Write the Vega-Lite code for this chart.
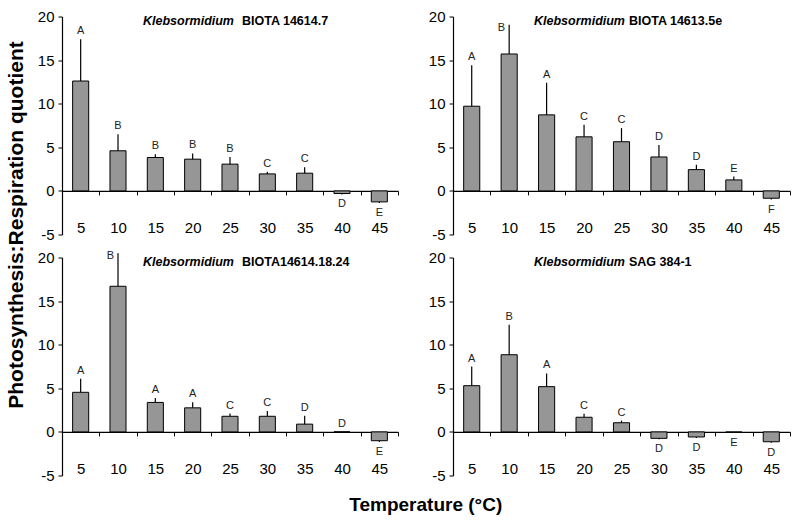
{
  "$schema": "https://vega.github.io/schema/vega-lite/v6.json",
  "padding": {"left": 5, "top": 9.5, "right": 5, "bottom": 5},
  "background": "white",
  "config": {
    "font": "Liberation Sans",
    "view": {"stroke": null},
    "axis": {"grid": false, "labelFont": "Liberation Sans", "titleFont": "Liberation Sans", "domainColor": "#000000", "tickColor": "#000000", "labelColor": "#000000", "titleColor": "#000000"},
    "axisX": {"tickSize": 4, "labelPadding": 26, "labelFontSize": 15, "labelAngle": 0, "tickBand": "extent", "offset": -43.6, "domainWidth": 1.2, "tickWidth": 1},
    "axisY": {"tickSize": 4, "labelPadding": 4, "labelFontSize": 15, "domainWidth": 1.2, "tickWidth": 1},
    "text": {"font": "Liberation Sans"}
  },
  "title": {"text": "Temperature (°C)", "orient": "bottom", "anchor": "middle", "fontSize": 19, "fontWeight": "bold", "font": "Liberation Sans", "color": "#000000", "offset": 12, "dx": 28},
  "datasets": {
    "bars": [
      {"panel": "A", "temp": 5, "value": 12.6, "err_end": 17.4, "letter": "A"},
      {"panel": "A", "temp": 10, "value": 4.6, "err_end": 6.5, "letter": "B"},
      {"panel": "A", "temp": 15, "value": 3.83, "err_end": 4.2, "letter": "B"},
      {"panel": "A", "temp": 20, "value": 3.64, "err_end": 4.3, "letter": "B"},
      {"panel": "A", "temp": 25, "value": 3.07, "err_end": 3.9, "letter": "B"},
      {"panel": "A", "temp": 30, "value": 1.95, "err_end": 2.2, "letter": "C"},
      {"panel": "A", "temp": 35, "value": 2.03, "err_end": 2.7, "letter": "C"},
      {"panel": "A", "temp": 40, "value": -0.3, "err_end": -0.4, "letter": "D"},
      {"panel": "A", "temp": 45, "value": -1.26, "err_end": -1.4, "letter": "E"},
      {"panel": "B", "temp": 5, "value": 9.71, "err_end": 14.4, "letter": "A"},
      {"panel": "B", "temp": 10, "value": 15.7, "err_end": 19.05, "letter": "B"},
      {"panel": "B", "temp": 15, "value": 8.72, "err_end": 12.4, "letter": "A"},
      {"panel": "B", "temp": 20, "value": 6.2, "err_end": 7.6, "letter": "C"},
      {"panel": "B", "temp": 25, "value": 5.64, "err_end": 7.2, "letter": "C"},
      {"panel": "B", "temp": 30, "value": 3.89, "err_end": 5.26, "letter": "D"},
      {"panel": "B", "temp": 35, "value": 2.44, "err_end": 3.0, "letter": "D"},
      {"panel": "B", "temp": 40, "value": 1.26, "err_end": 1.64, "letter": "E"},
      {"panel": "B", "temp": 45, "value": -0.84, "err_end": -1.0, "letter": "F"},
      {"panel": "C", "temp": 5, "value": 4.54, "err_end": 6.1, "letter": "A"},
      {"panel": "C", "temp": 10, "value": 16.7, "err_end": 20.5, "letter": "B"},
      {"panel": "C", "temp": 15, "value": 3.38, "err_end": 3.9, "letter": "A"},
      {"panel": "C", "temp": 20, "value": 2.76, "err_end": 3.4, "letter": "A"},
      {"panel": "C", "temp": 25, "value": 1.79, "err_end": 2.1, "letter": "C"},
      {"panel": "C", "temp": 30, "value": 1.79, "err_end": 2.4, "letter": "C"},
      {"panel": "C", "temp": 35, "value": 0.89, "err_end": 1.86, "letter": "D"},
      {"panel": "C", "temp": 40, "value": 0, "err_end": 0, "letter": "D"},
      {"panel": "C", "temp": 45, "value": -1.01, "err_end": -1.15, "letter": "E"},
      {"panel": "D", "temp": 5, "value": 5.3, "err_end": 7.5, "letter": "A"},
      {"panel": "D", "temp": 10, "value": 8.85, "err_end": 12.3, "letter": "B"},
      {"panel": "D", "temp": 15, "value": 5.19, "err_end": 6.7, "letter": "A"},
      {"panel": "D", "temp": 20, "value": 1.68, "err_end": 2.07, "letter": "C"},
      {"panel": "D", "temp": 25, "value": 1.05, "err_end": 1.3, "letter": "C"},
      {"panel": "D", "temp": 30, "value": -0.74, "err_end": -0.85, "letter": "D"},
      {"panel": "D", "temp": 35, "value": -0.58, "err_end": -0.7, "letter": "D"},
      {"panel": "D", "temp": 40, "value": -0.05, "err_end": -0.1, "letter": "E"},
      {"panel": "D", "temp": 45, "value": -1.13, "err_end": -1.25, "letter": "D"}
    ],
    "titles": [
      {"panel": "A", "genus": "Klebsormidium", "strain": "BIOTA 14614.7"},
      {"panel": "B", "genus": "Klebsormidium", "strain": "BIOTA 14613.5e"},
      {"panel": "C", "genus": "Klebsormidium", "strain": "BIOTA14614.18.24"},
      {"panel": "D", "genus": "Klebsormidium", "strain": "SAG 384-1"}
    ]
  },
  "columns": 2,
  "spacing": {"row": 23, "column": 55},
  "bounds": "flush",
  "concat": [
    {
      "width": 336, "height": 218,
      "data": {"name": "bars"},
      "transform": [{"filter": "datum.panel == 'A'"}],
      "resolve": {"axis": {"x": "independent", "y": "independent"}},
      "layer": [
        {"mark": {"type": "bar", "fill": "#969696", "stroke": "#000000", "strokeWidth": 1, "width": {"band": 0.43}},
         "encoding": {
           "x": {"field": "temp", "type": "ordinal", "title": null, "scale": {"domain": [5,10,15,20,25,30,35,40,45], "paddingInner": 0, "paddingOuter": 0}, "axis": {}},
           "y": {"field": "value", "type": "quantitative", "title": "Photosynthesis:Respiration quotient", "scale": {"domain": [-5, 20], "nice": false, "zero": false},
                 "axis": {"values": [-5, 0, 5, 10, 15, 20], "labelExpr": "'' + datum.value", "titleFontSize": 21, "titleFontWeight": "bold", "titleX": -46, "titleY": 208, "titleAngle": -90, "titleBaseline": "middle", "titleAlign": "center"}},
           "y2": {"datum": 0}
         }},
        {"mark": {"type": "rule", "color": "#000000", "strokeWidth": 1.2},
         "encoding": {
           "x": {"field": "temp", "type": "ordinal", "scale": {"domain": [5,10,15,20,25,30,35,40,45], "paddingInner": 0, "paddingOuter": 0}, "axis": null},
           "y": {"field": "value", "type": "quantitative", "scale": {"domain": [-5, 20], "nice": false, "zero": false}, "axis": null},
           "y2": {"field": "err_end"}
         }},
        {"transform": [{"filter": "datum.value >= 0 && datum.err_end <= 18.5"}],
         "mark": {"type": "text", "fontSize": 11, "color": "#222222", "baseline": "alphabetic", "dy": -5},
         "encoding": {
           "x": {"field": "temp", "type": "ordinal", "scale": {"domain": [5,10,15,20,25,30,35,40,45], "paddingInner": 0, "paddingOuter": 0}, "axis": null},
           "y": {"field": "err_end", "type": "quantitative", "scale": {"domain": [-5, 20], "nice": false, "zero": false}, "axis": null},
           "text": {"field": "letter"}
         }},
        {"transform": [{"filter": "datum.value < 0"}],
         "mark": {"type": "text", "fontSize": 11, "color": "#222222", "baseline": "top", "dy": 4},
         "encoding": {
           "x": {"field": "temp", "type": "ordinal", "scale": {"domain": [5,10,15,20,25,30,35,40,45], "paddingInner": 0, "paddingOuter": 0}, "axis": null},
           "y": {"field": "err_end", "type": "quantitative", "scale": {"domain": [-5, 20], "nice": false, "zero": false}, "axis": null},
           "text": {"field": "letter"}
         }},
        {"data": {"name": "titles"}, "transform": [{"filter": "datum.panel == 'A'"}],
         "mark": {"type": "text", "fontSize": 12.5, "fontStyle": "italic", "fontWeight": "bold", "color": "#000000", "align": "right", "baseline": "top", "dx": 4, "dy": -2},
         "encoding": {
           "x": {"datum": 25, "type": "ordinal", "scale": {"domain": [5,10,15,20,25,30,35,40,45], "paddingInner": 0, "paddingOuter": 0}, "axis": null},
           "y": {"datum": 20, "type": "quantitative", "scale": {"domain": [-5, 20], "nice": false, "zero": false}, "axis": null},
           "text": {"field": "genus"}
         }},
        {"data": {"name": "titles"}, "transform": [{"filter": "datum.panel == 'A'"}],
         "mark": {"type": "text", "fontSize": 12.5, "fontWeight": "bold", "color": "#000000", "align": "left", "baseline": "top", "dx": 12, "dy": -2},
         "encoding": {
           "x": {"datum": 25, "type": "ordinal", "scale": {"domain": [5,10,15,20,25,30,35,40,45], "paddingInner": 0, "paddingOuter": 0}, "axis": null},
           "y": {"datum": 20, "type": "quantitative", "scale": {"domain": [-5, 20], "nice": false, "zero": false}, "axis": null},
           "text": {"field": "strain"}
         }}
      ]
    },
    {
      "width": 337, "height": 218,
      "data": {"name": "bars"},
      "transform": [{"filter": "datum.panel == 'B'"}],
      "resolve": {"axis": {"x": "independent", "y": "independent"}},
      "layer": [
        {"mark": {"type": "bar", "fill": "#969696", "stroke": "#000000", "strokeWidth": 1, "width": {"band": 0.43}},
         "encoding": {
           "x": {"field": "temp", "type": "ordinal", "title": null, "scale": {"domain": [5,10,15,20,25,30,35,40,45], "paddingInner": 0, "paddingOuter": 0}, "axis": {}},
           "y": {"field": "value", "type": "quantitative", "title": null, "scale": {"domain": [-5, 20], "nice": false, "zero": false},
                 "axis": {"values": [-5, 0, 5, 10, 15, 20], "labelExpr": "'' + datum.value"}},
           "y2": {"datum": 0}
         }},
        {"mark": {"type": "rule", "color": "#000000", "strokeWidth": 1.2},
         "encoding": {
           "x": {"field": "temp", "type": "ordinal", "scale": {"domain": [5,10,15,20,25,30,35,40,45], "paddingInner": 0, "paddingOuter": 0}, "axis": null},
           "y": {"field": "value", "type": "quantitative", "scale": {"domain": [-5, 20], "nice": false, "zero": false}, "axis": null},
           "y2": {"field": "err_end"}
         }},
        {"transform": [{"filter": "datum.value >= 0 && datum.err_end <= 18.5"}],
         "mark": {"type": "text", "fontSize": 11, "color": "#222222", "baseline": "alphabetic", "dy": -5},
         "encoding": {
           "x": {"field": "temp", "type": "ordinal", "scale": {"domain": [5,10,15,20,25,30,35,40,45], "paddingInner": 0, "paddingOuter": 0}, "axis": null},
           "y": {"field": "err_end", "type": "quantitative", "scale": {"domain": [-5, 20], "nice": false, "zero": false}, "axis": null},
           "text": {"field": "letter"}
         }},
        {"transform": [{"filter": "datum.value < 0"}],
         "mark": {"type": "text", "fontSize": 11, "color": "#222222", "baseline": "top", "dy": 4},
         "encoding": {
           "x": {"field": "temp", "type": "ordinal", "scale": {"domain": [5,10,15,20,25,30,35,40,45], "paddingInner": 0, "paddingOuter": 0}, "axis": null},
           "y": {"field": "err_end", "type": "quantitative", "scale": {"domain": [-5, 20], "nice": false, "zero": false}, "axis": null},
           "text": {"field": "letter"}
         }},
        {"transform": [{"filter": "datum.err_end > 18.5"}],
         "mark": {"type": "text", "fontSize": 11, "color": "#222222", "align": "right", "baseline": "middle", "dx": -4, "dy": 3},
         "encoding": {
           "x": {"field": "temp", "type": "ordinal", "scale": {"domain": [5,10,15,20,25,30,35,40,45], "paddingInner": 0, "paddingOuter": 0}, "axis": null},
           "y": {"field": "err_end", "type": "quantitative", "scale": {"domain": [-5, 20], "nice": false, "zero": false}, "axis": null},
           "text": {"field": "letter"}
         }},
        {"data": {"name": "titles"}, "transform": [{"filter": "datum.panel == 'B'"}],
         "mark": {"type": "text", "fontSize": 12.5, "fontStyle": "italic", "fontWeight": "bold", "color": "#000000", "align": "right", "baseline": "top", "dx": 3.5, "dy": -2},
         "encoding": {
           "x": {"datum": 25, "type": "ordinal", "scale": {"domain": [5,10,15,20,25,30,35,40,45], "paddingInner": 0, "paddingOuter": 0}, "axis": null},
           "y": {"datum": 20, "type": "quantitative", "scale": {"domain": [-5, 20], "nice": false, "zero": false}, "axis": null},
           "text": {"field": "genus"}
         }},
        {"data": {"name": "titles"}, "transform": [{"filter": "datum.panel == 'B'"}],
         "mark": {"type": "text", "fontSize": 12.5, "fontWeight": "bold", "color": "#000000", "align": "left", "baseline": "top", "dx": 7.5, "dy": -2},
         "encoding": {
           "x": {"datum": 25, "type": "ordinal", "scale": {"domain": [5,10,15,20,25,30,35,40,45], "paddingInner": 0, "paddingOuter": 0}, "axis": null},
           "y": {"datum": 20, "type": "quantitative", "scale": {"domain": [-5, 20], "nice": false, "zero": false}, "axis": null},
           "text": {"field": "strain"}
         }}
      ]
    },
    {
      "width": 336, "height": 218,
      "data": {"name": "bars"},
      "transform": [{"filter": "datum.panel == 'C'"}],
      "resolve": {"axis": {"x": "independent", "y": "independent"}},
      "layer": [
        {"mark": {"type": "bar", "fill": "#969696", "stroke": "#000000", "strokeWidth": 1, "width": {"band": 0.43}},
         "encoding": {
           "x": {"field": "temp", "type": "ordinal", "title": null, "scale": {"domain": [5,10,15,20,25,30,35,40,45], "paddingInner": 0, "paddingOuter": 0}, "axis": {}},
           "y": {"field": "value", "type": "quantitative", "title": null, "scale": {"domain": [-5, 20], "nice": false, "zero": false},
                 "axis": {"values": [-5, 0, 5, 10, 15, 20], "labelExpr": "'' + datum.value"}},
           "y2": {"datum": 0}
         }},
        {"mark": {"type": "rule", "color": "#000000", "strokeWidth": 1.2},
         "encoding": {
           "x": {"field": "temp", "type": "ordinal", "scale": {"domain": [5,10,15,20,25,30,35,40,45], "paddingInner": 0, "paddingOuter": 0}, "axis": null},
           "y": {"field": "value", "type": "quantitative", "scale": {"domain": [-5, 20], "nice": false, "zero": false}, "axis": null},
           "y2": {"field": "err_end"}
         }},
        {"transform": [{"filter": "datum.value >= 0 && datum.err_end <= 18.5"}],
         "mark": {"type": "text", "fontSize": 11, "color": "#222222", "baseline": "alphabetic", "dy": -5},
         "encoding": {
           "x": {"field": "temp", "type": "ordinal", "scale": {"domain": [5,10,15,20,25,30,35,40,45], "paddingInner": 0, "paddingOuter": 0}, "axis": null},
           "y": {"field": "err_end", "type": "quantitative", "scale": {"domain": [-5, 20], "nice": false, "zero": false}, "axis": null},
           "text": {"field": "letter"}
         }},
        {"transform": [{"filter": "datum.value < 0"}],
         "mark": {"type": "text", "fontSize": 11, "color": "#222222", "baseline": "top", "dy": 4},
         "encoding": {
           "x": {"field": "temp", "type": "ordinal", "scale": {"domain": [5,10,15,20,25,30,35,40,45], "paddingInner": 0, "paddingOuter": 0}, "axis": null},
           "y": {"field": "err_end", "type": "quantitative", "scale": {"domain": [-5, 20], "nice": false, "zero": false}, "axis": null},
           "text": {"field": "letter"}
         }},
        {"transform": [{"filter": "datum.err_end > 18.5"}],
         "mark": {"type": "text", "fontSize": 11, "color": "#222222", "align": "right", "baseline": "middle", "dx": -4, "dy": 3},
         "encoding": {
           "x": {"field": "temp", "type": "ordinal", "scale": {"domain": [5,10,15,20,25,30,35,40,45], "paddingInner": 0, "paddingOuter": 0}, "axis": null},
           "y": {"field": "err_end", "type": "quantitative", "scale": {"domain": [-5, 20], "nice": false, "zero": false}, "axis": null},
           "text": {"field": "letter"}
         }},
        {"data": {"name": "titles"}, "transform": [{"filter": "datum.panel == 'C'"}],
         "mark": {"type": "text", "fontSize": 12.5, "fontStyle": "italic", "fontWeight": "bold", "color": "#000000", "align": "right", "baseline": "top", "dx": 4, "dy": -2},
         "encoding": {
           "x": {"datum": 25, "type": "ordinal", "scale": {"domain": [5,10,15,20,25,30,35,40,45], "paddingInner": 0, "paddingOuter": 0}, "axis": null},
           "y": {"datum": 20, "type": "quantitative", "scale": {"domain": [-5, 20], "nice": false, "zero": false}, "axis": null},
           "text": {"field": "genus"}
         }},
        {"data": {"name": "titles"}, "transform": [{"filter": "datum.panel == 'C'"}],
         "mark": {"type": "text", "fontSize": 12.5, "fontWeight": "bold", "color": "#000000", "align": "left", "baseline": "top", "dx": 12, "dy": -2},
         "encoding": {
           "x": {"datum": 25, "type": "ordinal", "scale": {"domain": [5,10,15,20,25,30,35,40,45], "paddingInner": 0, "paddingOuter": 0}, "axis": null},
           "y": {"datum": 20, "type": "quantitative", "scale": {"domain": [-5, 20], "nice": false, "zero": false}, "axis": null},
           "text": {"field": "strain"}
         }}
      ]
    },
    {
      "width": 337, "height": 218,
      "data": {"name": "bars"},
      "transform": [{"filter": "datum.panel == 'D'"}],
      "resolve": {"axis": {"x": "independent", "y": "independent"}},
      "layer": [
        {"mark": {"type": "bar", "fill": "#969696", "stroke": "#000000", "strokeWidth": 1, "width": {"band": 0.43}},
         "encoding": {
           "x": {"field": "temp", "type": "ordinal", "title": null, "scale": {"domain": [5,10,15,20,25,30,35,40,45], "paddingInner": 0, "paddingOuter": 0}, "axis": {}},
           "y": {"field": "value", "type": "quantitative", "title": null, "scale": {"domain": [-5, 20], "nice": false, "zero": false},
                 "axis": {"values": [-5, 0, 5, 10, 15, 20], "labelExpr": "'' + datum.value"}},
           "y2": {"datum": 0}
         }},
        {"mark": {"type": "rule", "color": "#000000", "strokeWidth": 1.2},
         "encoding": {
           "x": {"field": "temp", "type": "ordinal", "scale": {"domain": [5,10,15,20,25,30,35,40,45], "paddingInner": 0, "paddingOuter": 0}, "axis": null},
           "y": {"field": "value", "type": "quantitative", "scale": {"domain": [-5, 20], "nice": false, "zero": false}, "axis": null},
           "y2": {"field": "err_end"}
         }},
        {"transform": [{"filter": "datum.value >= 0 && datum.err_end <= 18.5"}],
         "mark": {"type": "text", "fontSize": 11, "color": "#222222", "baseline": "alphabetic", "dy": -5},
         "encoding": {
           "x": {"field": "temp", "type": "ordinal", "scale": {"domain": [5,10,15,20,25,30,35,40,45], "paddingInner": 0, "paddingOuter": 0}, "axis": null},
           "y": {"field": "err_end", "type": "quantitative", "scale": {"domain": [-5, 20], "nice": false, "zero": false}, "axis": null},
           "text": {"field": "letter"}
         }},
        {"transform": [{"filter": "datum.value < 0"}],
         "mark": {"type": "text", "fontSize": 11, "color": "#222222", "baseline": "top", "dy": 4},
         "encoding": {
           "x": {"field": "temp", "type": "ordinal", "scale": {"domain": [5,10,15,20,25,30,35,40,45], "paddingInner": 0, "paddingOuter": 0}, "axis": null},
           "y": {"field": "err_end", "type": "quantitative", "scale": {"domain": [-5, 20], "nice": false, "zero": false}, "axis": null},
           "text": {"field": "letter"}
         }},
        {"data": {"name": "titles"}, "transform": [{"filter": "datum.panel == 'D'"}],
         "mark": {"type": "text", "fontSize": 12.5, "fontStyle": "italic", "fontWeight": "bold", "color": "#000000", "align": "right", "baseline": "top", "dx": 3.5, "dy": -2},
         "encoding": {
           "x": {"datum": 25, "type": "ordinal", "scale": {"domain": [5,10,15,20,25,30,35,40,45], "paddingInner": 0, "paddingOuter": 0}, "axis": null},
           "y": {"datum": 20, "type": "quantitative", "scale": {"domain": [-5, 20], "nice": false, "zero": false}, "axis": null},
           "text": {"field": "genus"}
         }},
        {"data": {"name": "titles"}, "transform": [{"filter": "datum.panel == 'D'"}],
         "mark": {"type": "text", "fontSize": 12.5, "fontWeight": "bold", "color": "#000000", "align": "left", "baseline": "top", "dx": 7.5, "dy": -2},
         "encoding": {
           "x": {"datum": 25, "type": "ordinal", "scale": {"domain": [5,10,15,20,25,30,35,40,45], "paddingInner": 0, "paddingOuter": 0}, "axis": null},
           "y": {"datum": 20, "type": "quantitative", "scale": {"domain": [-5, 20], "nice": false, "zero": false}, "axis": null},
           "text": {"field": "strain"}
         }}
      ]
    }
  ]
}
